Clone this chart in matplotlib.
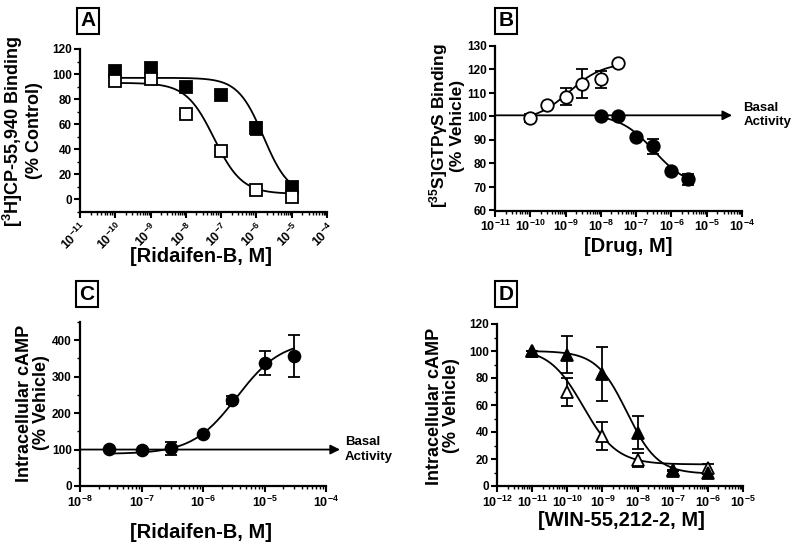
import numpy as np
import matplotlib
matplotlib.use('Agg')
import matplotlib.pyplot as plt
import matplotlib.transforms as mtransforms
from matplotlib.ticker import FixedLocator, LogLocator, FuncFormatter, NullFormatter, MultipleLocator

plt.rcParams['font.family'] = ['Liberation Sans', 'DejaVu Sans']
plt.rcParams['font.weight'] = 'bold'
plt.rcParams['mathtext.fontset'] = 'custom'
plt.rcParams['mathtext.bf'] = 'Liberation Sans:bold'
plt.rcParams['mathtext.rm'] = 'Liberation Sans:bold'
plt.rcParams['mathtext.it'] = 'Liberation Sans:bold:italic'
plt.rcParams['mathtext.default'] = 'bf'

# ---- data ----
# Panel A: [3H]CP-55,940 binding vs Ridaifen-B
a_conc = [1e-10, 1e-9, 1e-8, 1e-7, 1e-6, 1e-5]
a_filled = [102.7, 104.6, 90.0, 83.3, 56.7, 9.6]
a_filled_err = [0, 0, 0, 0, 5, 0]
a_open = [94.7, 96.0, 68.0, 39.0, 7.5, 2.0]
a_open_err = [0, 0, 0, 3, 0, 0]
# fit params: low-conc plateau, high-conc plateau, log mid, hill
a_filled_fit = [97, 3, -5.8, 1.2]
a_open_fit = [93, 4.5, -7.2, 1.1]

# Panel B: [35S]GTPgS binding
b_open_conc = [1e-10, 3e-10, 1e-9, 3e-9, 1e-8, 3e-8]
b_open = [99.3, 104.8, 108.5, 114.0, 115.8, 122.8]
b_open_err = [1.8, 0, 3.7, 6, 3.5, 0]
b_filled_conc = [1e-8, 3e-8, 1e-7, 3e-7, 1e-6, 3e-6]
b_filled = [100.0, 100.0, 91.3, 87.3, 77.0, 73.3]
b_filled_err = [0, 0, 0, 3.3, 0, 2.4]
b_open_fit = [98, 123, -8.9, 0.9]
b_filled_fit = [101, 70, -6.5, 0.9]
b_basal = 100.5

# Panel C: intracellular cAMP vs Ridaifen-B
c_conc = [3e-8, 1e-7, 3e-7, 1e-6, 3e-6, 1e-5, 3e-5]
c_vals = [102, 98, 103, 143, 236, 338, 357]
c_err = [0, 0, 18, 0, 12, 33, 57]
c_fit = [88, 400, -5.45, 1.2]
c_basal = 100

# Panel D: intracellular cAMP vs WIN-55,212-2
d_conc = [1e-11, 1e-10, 1e-9, 1e-8, 1e-7, 1e-6]
d_filled = [99.8, 97.4, 82.6, 39.6, 12.0, 9.5]
d_filled_err = [0, 13.5, 20, 12.5, 0, 0]
d_open = [99.8, 69.8, 37.1, 19.4, 11.3, 13.0]
d_open_err = [0, 10.2, 10.5, 5, 0, 3]
d_filled_fit = [100, 9, -8.3, 1.0]
d_open_fit = [102, 16, -9.55, 0.9]


def logistic(x, p):
    lo, hi, mid, h = p
    return hi + (lo - hi) / (1 + 10 ** ((np.log10(x) - mid) * h))


def decade_fmt(v, pos):
    return r'$\mathbf{10^{%d}}$' % int(round(np.log10(v)))


W, H = 800, 546
fig = plt.figure(figsize=(8, 5.46), dpi=100)


def px_axes(x0, x1, ytop, ybot):
    return fig.add_axes([x0 / W, 1 - ybot / H, (x1 - x0) / W, (ybot - ytop) / H])


def style(ax, lo, hi, ylim, ymaj, ymin=None, rot=False):
    ax.set_xscale('log')
    ax.set_xlim(10.0 ** lo, 10.0 ** hi)
    ax.set_ylim(*ylim)
    for s in ['top', 'right']:
        ax.spines[s].set_visible(False)
    for s in ['left', 'bottom']:
        ax.spines[s].set_linewidth(1.6)
    ax.xaxis.set_major_locator(FixedLocator([10.0 ** k for k in range(lo, hi + 1)]))
    ax.xaxis.set_minor_locator(LogLocator(base=10, subs=np.arange(2, 10), numticks=20))
    ax.xaxis.set_major_formatter(FuncFormatter(decade_fmt))
    ax.xaxis.set_minor_formatter(NullFormatter())
    ax.yaxis.set_major_locator(MultipleLocator(ymaj))
    if ymin:
        ax.yaxis.set_minor_locator(MultipleLocator(ymin))
    ax.tick_params(which='major', length=4.5, width=1.5, labelsize=8.5, pad=1.5)
    ax.tick_params(axis='x', which='major', labelsize=9)
    ax.tick_params(which='minor', length=2.5, width=1.0)
    if rot:
        for t in ax.get_xticklabels():
            t.set_rotation(45)
            t.set_ha('right')
            t.set_va('top')
            t.set_rotation_mode('anchor')


def series(ax, x, y, err, marker, filled, ms=9):
    ax.errorbar(x, y, yerr=err, fmt='none', ecolor='black', elinewidth=1.3,
                capsize=4.5, capthick=1.3, zorder=3)
    ax.plot(x, y, linestyle='none', marker=marker, ms=ms, mec='black', mew=1.3,
            mfc='black' if filled else 'white', zorder=4, clip_on=False)


def curve(ax, x0, x1, p):
    xs = np.logspace(np.log10(x0), np.log10(x1), 200)
    ax.plot(xs, logistic(xs, p), color='black', lw=1.3, zorder=2)


def basal(ax, y, tip, txt_x):
    tr = mtransforms.blended_transform_factory(ax.transAxes, ax.transData)
    ax.annotate('', xy=(tip, y), xytext=(0, y), xycoords=tr, textcoords=tr,
                arrowprops=dict(arrowstyle='-|>', lw=1.3, color='black',
                                mutation_scale=14, shrinkA=0, shrinkB=0),
                annotation_clip=False)
    ax.text(txt_x, y, 'Basal\nActivity', transform=tr, fontsize=9.5,
            fontweight='bold', ha='left', va='center', linespacing=1.25)


def panel_letter(x, y, s):
    fig.text(x / W, 1 - y / H, s, fontsize=15, fontweight='bold', ha='center', va='center',
             bbox=dict(boxstyle='square,pad=0.18', fc='white', ec='black', lw=1.5))


def label(x, y, s, rot=0, size=14.5, ls=1.1):
    fig.text(x / W, 1 - y / H, s, fontsize=size, fontweight='bold', ha='center',
             va='center', rotation=rot, linespacing=ls, multialignment='center')


# Panel A
axA = px_axes(80, 327, 49, 212)
style(axA, -11, -4, (-10, 120), 20, 10, rot=True)
curve(axA, 1e-10, 1e-5, a_filled_fit)
curve(axA, 1e-10, 1e-5, a_open_fit)
series(axA, a_conc, a_filled, a_filled_err, 's', True)
series(axA, a_conc, a_open, a_open_err, 's', False)

# Panel B
axB = px_axes(495, 742, 46, 210.5)
style(axB, -11, -4, (60, 130), 10)
curve(axB, 1e-10, 3e-8, b_open_fit)
curve(axB, 1e-8, 3e-6, b_filled_fit)
basal(axB, b_basal, 0.96, 1.005)
series(axB, b_open_conc, b_open, b_open_err, 'o', False)
series(axB, b_filled_conc, b_filled, b_filled_err, 'o', True)

# Panel C
axC = px_axes(80, 326, 322, 486)
style(axC, -8, -4, (0, 450), 100, 50)
curve(axC, 3e-8, 3e-5, c_fit)
basal(axC, c_basal, 1.057, 1.077)
series(axC, c_conc, c_vals, c_err, 'o', True, ms=8.5)

# Panel D
axD = px_axes(497, 743, 324, 486)
style(axD, -12, -5, (0, 120), 20, 10)
curve(axD, 1e-11, 1e-6, d_filled_fit)
curve(axD, 1e-11, 1e-6, d_open_fit)
series(axD, d_conc, d_open, d_open_err, '^', False)
series(axD, d_conc, d_filled, d_filled_err, '^', True)

# panel letters
panel_letter(88, 21, 'A')
panel_letter(506, 21, 'B')
panel_letter(87, 294, 'C')
panel_letter(506, 294, 'D')

# axis labels
label(201, 257, '[Ridaifen-B, M]')
label(628, 247, '[Drug, M]')
label(201, 533, '[Ridaifen-B, M]')
label(621, 520, '[WIN-55,212-2, M]')
label(22, 131, '[$^{3}$H]CP-55,940 Binding\n(% Control)', rot=90, size=13, ls=1.05)
label(446, 126, '[$^{35}$S]GTPγS Binding\n(% Vehicle)', rot=90, size=12.5, ls=1.0)
label(33, 403, 'Intracellular cAMP\n(% Vehicle)', rot=90, size=13, ls=1.0)
label(443, 406, 'Intracellular cAMP\n(% Vehicle)', rot=90, size=13, ls=1.0)

fig.savefig('out.png', dpi=100)
